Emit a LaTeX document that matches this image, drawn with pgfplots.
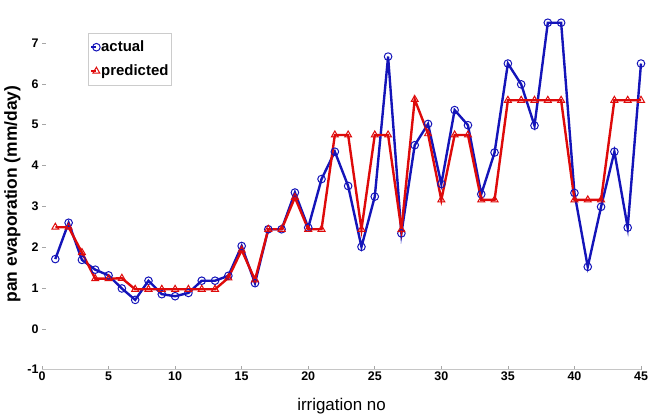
\documentclass[border=0pt]{standalone}
\usepackage{fontspec}
\setmainfont{Liberation Sans}
\usepackage{pgfplots}
\pgfplotsset{compat=1.18}
\definecolor{ablue}{RGB}{20,20,185}
\definecolor{pred}{RGB}{222,10,10}
\begin{document}
\begin{tikzpicture}
\begin{axis}[
  scale only axis,
  width=599bp, height=367.4bp,
  xmin=0, xmax=45, ymin=-1, ymax=8,
  xtick={0,5,...,45}, ytick={-1,0,...,7},
  axis x line=bottom, axis y line=left,
  x axis line style={-, draw=gray!45, line width=1.6pt},
  y axis line style={-, draw=none},
  tick align=inside,
  major tick length=4bp,
  every tick/.style={gray!70, line width=0.6pt},
  /pgf/number format/assume math mode=true,
  ticklabel style={font=\bfseries\fontsize{12.5}{14}\selectfont},
  xticklabel style={yshift=1bp},
  xlabel={irrigation no},
  xlabel style={font=\fontsize{17}{19}\selectfont, yshift=-10bp},
  ylabel={pan evaporation (mm/day)},
  ylabel style={font=\bfseries\fontsize{17.5}{19}\selectfont, yshift=0bp, xshift=-8bp},
  clip=false,
  legend style={at={(0.0768,0.9164)}, anchor=north west, draw=gray!40,
    font=\bfseries\fontsize{15}{17}\selectfont, inner ysep=2pt, inner xsep=2pt,
    nodes={inner xsep=1pt, inner ysep=0pt, minimum height=24bp}},
  legend cell align=left,
  legend image code/.code={\draw[#1] (0bp,0bp) -- (5bp,0bp); \draw[#1] plot coordinates {(5bp,0bp)};},
]
\addplot[color=ablue, line width=2.4pt, mark=o, mark size=3.8bp, mark options={line width=1pt}] coordinates {
(1,1.71)(2,2.6)(3,1.69)(4,1.45)(5,1.31)(6,0.99)(7,0.71)(8,1.18)(9,0.85)(10,0.80)
(11,0.88)(12,1.18)(13,1.18)(14,1.30)(15,2.03)(16,1.12)(17,2.44)(18,2.44)(19,3.34)(20,2.48)
(21,3.67)(22,4.34)(23,3.5)(24,2.01)(25,3.24)(26,6.67)(27,2.34)(28,4.5)(29,5.02)(30,3.55)
(31,5.36)(32,4.99)(33,3.3)(34,4.32)(35,6.5)(36,5.99)(37,4.98)(38,7.5)(39,7.5)(40,3.33)
(41,1.52)(42,2.99)(43,4.34)(44,2.48)(45,6.5)
};
\addlegendentry{actual}
\addplot[color=pred, line width=2.4pt, mark=triangle, mark size=4bp, mark options={line width=1pt}] coordinates {
(1,2.49)(2,2.49)(3,1.87)(4,1.23)(5,1.23)(6,1.24)(7,0.97)(8,0.97)(9,0.97)(10,0.97)
(11,0.97)(12,0.97)(13,0.97)(14,1.25)(15,1.93)(16,1.2)(17,2.44)(18,2.44)(19,3.22)(20,2.44)
(21,2.44)(22,4.75)(23,4.75)(24,2.44)(25,4.75)(26,4.75)(27,2.43)(28,5.62)(29,4.78)(30,3.16)
(31,4.75)(32,4.75)(33,3.16)(34,3.16)(35,5.6)(36,5.6)(37,5.6)(38,5.6)(39,5.6)(40,3.16)
(41,3.16)(42,3.16)(43,5.6)(44,5.6)(45,5.6)
};
\addlegendentry{predicted}
\end{axis}
\pgfresetboundingbox
\path (-42bp,-46.3bp) rectangle (606bp,369.7bp);
\end{tikzpicture}
\end{document}
